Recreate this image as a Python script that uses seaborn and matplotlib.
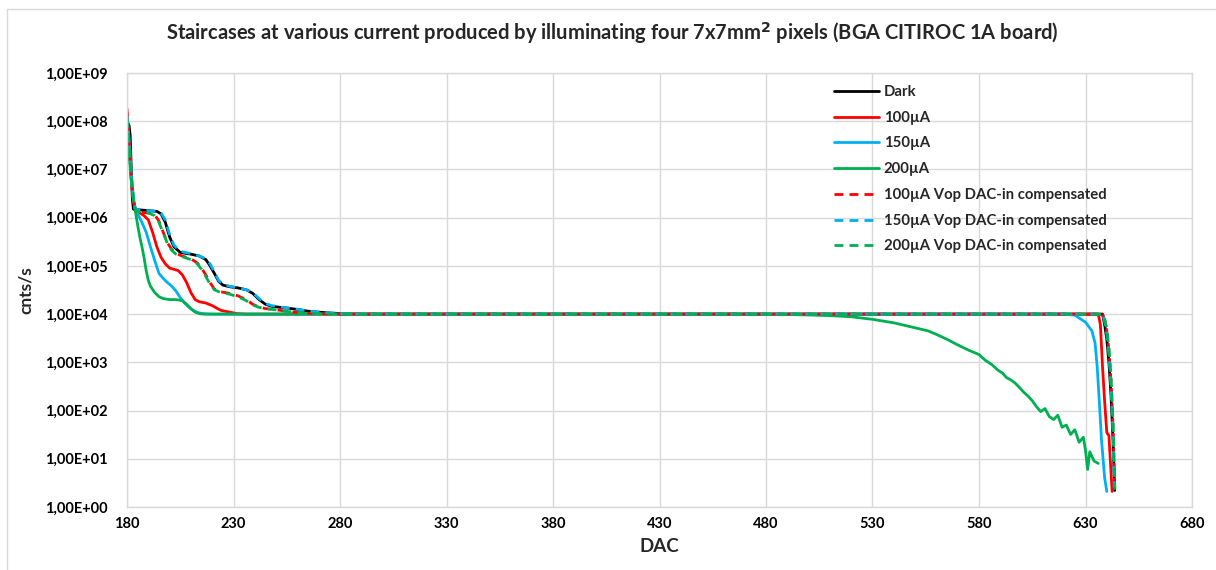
import numpy as np
import pandas as pd
import matplotlib
matplotlib.use("Agg")
import matplotlib.pyplot as plt
import seaborn as sns
from matplotlib.ticker import FuncFormatter, FixedLocator
from matplotlib.patches import Rectangle

# ---- data (DAC, cnts/s) ----
dark_x = [180, 181, 181.5, 182, 182.5, 183, 186, 190, 194, 196, 198, 200, 202, 205, 210, 214, 217, 219, 221,
          223, 225, 228, 232, 236, 239, 242, 245, 248, 252, 256, 260, 265, 270, 276, 282, 288,
          638, 639, 640, 641, 642, 643, 643.7]
dark_y = [1e8, 8e7, 5e7, 1e7, 2.5e6, 1.5e6, 1.45e6, 1.4e6, 1.35e6, 1.2e6, 8e5, 4e5, 2.5e5, 1.9e5, 1.75e5, 1.6e5,
          1.35e5, 1e5, 7e4, 4.8e4, 4e4, 3.7e4, 3.5e4, 3.2e4, 2.7e4, 2e4, 1.6e4, 1.45e4, 1.38e4, 1.32e4, 1.25e4,
          1.15e4, 1.1e4, 1.05e4, 1.02e4, 1e4, 1e4, 6e3, 3e3, 1e3, 200, 20, 2.2]

i100_x = [180, 181, 182, 183, 184, 186, 188, 190, 192, 194, 196, 198, 200, 202, 204, 206, 208, 210, 212, 214,
          217, 220, 224, 228, 232, 236, 636, 637, 638, 639, 640, 641, 642, 642.5]
i100_y = [1.8e8, 3e7, 6e6, 2.2e6, 1.4e6, 1.25e6, 1.1e6, 9e5, 5e5, 2.5e5, 1.5e5, 1.1e5, 9e4, 8.5e4, 8e4, 6.5e4,
          4.5e4, 2.8e4, 2e4, 1.8e4, 1.7e4, 1.5e4, 1.2e4, 1.1e4, 1.02e4, 1e4, 1e4, 6e3, 8e2, 1.5e2, 35, 30, 5, 2.1]

i150_x = [180, 181, 182, 183, 184, 185, 187, 189, 191, 193, 195, 197, 199, 201, 203, 205, 207, 209, 211, 213,
          216, 220, 620, 625, 630, 633, 634.5, 635.5, 636.5, 637.5, 639, 640]
i150_y = [1.3e8, 4e7, 8e6, 2.5e6, 1.4e6, 1.2e6, 8e5, 5e5, 2.5e5, 1.3e5, 7e4, 5.5e4, 4.5e4, 3.8e4, 3e4, 2.2e4,
          1.7e4, 1.4e4, 1.2e4, 1.08e4, 1.02e4, 1e4, 1e4, 9.5e3, 6.8e3, 4.5e3, 2.5e3, 800, 150, 25, 4, 2.1]

i200_x = [180, 181, 182, 183, 184, 185, 186, 187, 188, 189, 190, 191, 193, 195, 197, 200, 203, 206, 208, 210,
          212, 214, 216, 220, 480, 490, 500, 510, 520, 530, 540, 550, 556, 560, 565, 570, 575, 580, 583, 586,
          589, 591, 593, 595, 597, 599, 601, 603, 605, 607, 609, 611, 613, 615, 617, 619, 621, 623, 625, 627,
          629, 630, 631, 632, 634, 636]
i200_y = [8e7, 2e7, 6e6, 2.5e6, 1.3e6, 7e5, 4e5, 2.5e5, 1.5e5, 8e4, 5e4, 3.8e4, 2.8e4, 2.3e4, 2.1e4, 2e4, 2e4,
          1.9e4, 1.6e4, 1.3e4, 1.1e4, 1.02e4, 1e4, 1e4, 1e4, 9.8e3, 9.6e3, 9.3e3, 8.8e3, 7.8e3, 6.6e3, 5.2e3,
          4.5e3, 3.8e3, 3.0e3, 2.3e3, 1.8e3, 1.45e3, 1.1e3, 900, 680, 600, 480, 430, 370, 300, 240, 200, 160,
          120, 95, 110, 75, 65, 80, 45, 50, 32, 40, 22, 28, 15, 6, 14, 9, 8]

c100_x = [180, 181, 182, 183, 184, 186, 190, 193, 195, 197, 199, 201, 203, 206, 210, 213, 215, 217, 219, 221,
          224, 228, 232, 236, 239, 242, 245, 249, 253, 258, 263, 268, 274, 280, 286,
          638, 639, 640, 641, 642, 643, 643.7]
c100_y = [1.5e8, 4e7, 7e6, 2.3e6, 1.4e6, 1.3e6, 1.25e6, 1.15e6, 8.5e5, 5e5, 3e5, 2.2e5, 1.8e5, 1.6e5, 1.4e5,
          1.15e5, 9e4, 6.5e4, 4.5e4, 3.3e4, 2.9e4, 2.7e4, 2.4e4, 2e4, 1.6e4, 1.4e4, 1.3e4, 1.25e4, 1.18e4,
          1.1e4, 1.06e4, 1.03e4, 1.01e4, 1e4, 1e4, 1e4, 7.5e3, 4.5e3, 1.8e3, 400, 40, 2.2]

c150_x = [180, 181, 182, 183, 184, 186, 190, 194, 196, 198, 200, 202, 205, 210, 214, 217, 219, 221, 223, 225,
          228, 232, 236, 239, 242, 245, 248, 252, 256, 260, 265, 270, 276, 282, 288,
          638, 639, 640, 641, 642, 643, 643.5]
c150_y = [1.3e8, 4e7, 8e6, 2.5e6, 1.5e6, 1.45e6, 1.4e6, 1.35e6, 1.25e6, 9e5, 4.5e5, 2.7e5, 2e5, 1.8e5, 1.6e5,
          1.4e5, 1.1e5, 7.5e4, 5e4, 4.2e4, 3.8e4, 3.5e4, 3.2e4, 2.8e4, 2.1e4, 1.65e4, 1.5e4, 1.4e4, 1.33e4,
          1.26e4, 1.16e4, 1.1e4, 1.05e4, 1.02e4, 1e4, 1e4, 7e3, 4e3, 1.5e3, 300, 30, 2.5]

c200_x = [180, 181, 182, 183, 184, 186, 190, 193, 195, 197, 199, 201, 203, 206, 210, 213, 215, 217, 219, 221,
          224, 228, 232, 236, 239, 242, 245, 249, 253, 258, 263, 268, 274, 280, 286,
          638, 639, 640, 641, 642, 643, 643.8]
c200_y = [1.2e8, 3.5e7, 7e6, 2.3e6, 1.4e6, 1.3e6, 1.25e6, 1.1e6, 8e5, 4.8e5, 2.9e5, 2.1e5, 1.75e5, 1.55e5,
          1.35e5, 1.1e5, 8.5e4, 6e4, 4.2e4, 3.2e4, 2.8e4, 2.6e4, 2.3e4, 1.9e4, 1.55e4, 1.38e4, 1.3e4, 1.24e4,
          1.17e4, 1.1e4, 1.05e4, 1.03e4, 1.01e4, 1e4, 1e4, 1e4, 8e3, 5e3, 2e3, 500, 50, 2.3]

series_names = ["Dark", "100µA", "150µA", "200µA",
                "100µA Vop DAC-in compensated", "150µA Vop DAC-in compensated",
                "200µA Vop DAC-in compensated"]
series_x = [dark_x, i100_x, i150_x, i200_x, c100_x, c150_x, c200_x]
series_y = [dark_y, i100_y, i150_y, i200_y, c100_y, c150_y, c200_y]
colors = ["#000000", "#FF0000", "#00B0F0", "#00B050", "#FF0000", "#00B0F0", "#00B050"]
dashed = [False, False, False, False, True, True, True]

x_ticks = [180, 230, 280, 330, 380, 430, 480, 530, 580, 630, 680]
y_ticks = [1e0, 1e1, 1e2, 1e3, 1e4, 1e5, 1e6, 1e7, 1e8, 1e9]

frames = []
for name, xs, ys in zip(series_names, series_x, series_y):
    frames.append(pd.DataFrame({"DAC": xs, "cnts": ys, "series": name}))
df = pd.concat(frames, ignore_index=True)

sns.set_style("whitegrid")
plt.rcParams['font.family'] = ['Lato', 'DejaVu Sans']

fig = plt.figure(figsize=(12.16, 5.70), dpi=100)
ax = fig.add_axes([127 / 1216, 1 - 507 / 570, (1192 - 127) / 1216, (507 - 73) / 570])

for name, col, ds in zip(series_names, colors, dashed):
    sub = df[df["series"] == name]
    sns.lineplot(data=sub, x="DAC", y="cnts", ax=ax, color=col, lw=2.0, sort=False,
                 estimator=None, label=name,
                 linestyle=(0, (3.2, 2.2)) if ds else "-")

ax.set_yscale("log")
ax.set_xlim(180, 680)
ax.set_ylim(1, 1e9)
ax.xaxis.set_major_locator(FixedLocator(x_ticks))
ax.yaxis.set_major_locator(FixedLocator(y_ticks))
ax.yaxis.set_minor_locator(FixedLocator([]))
ax.yaxis.set_major_formatter(FuncFormatter(lambda v, p: "1,00E+%02d" % int(round(np.log10(v)))))
ax.grid(True, color="#d9d9d9", lw=1.0)
for s in ax.spines.values():
    s.set_color("#d9d9d9")
    s.set_linewidth(1.0)
ax.tick_params(axis="both", length=0, labelsize=10.5, colors="#000000")
ax.tick_params(axis="y", pad=14)
ax.tick_params(axis="x", pad=7)
for lab in ax.get_xticklabels() + ax.get_yticklabels():
    lab.set_fontweight("bold")

ax.set_xlabel("DAC", fontsize=13.5, fontweight="bold", labelpad=5)
ax.set_ylabel("cnts/s", fontsize=12.5, fontweight="bold", labelpad=8)

fig.text(612 / 1216, 1 - 33 / 570,
         "Staircases at various current produced by illuminating four 7x7mm$^\\mathbf{2}$ pixels (BGA CITIROC 1A board)",
         ha="center", va="center", fontsize=14.5, fontweight="bold")

leg = ax.legend(loc="upper left", bbox_to_anchor=(834 / 1216, 1 - 85 / 570), bbox_transform=fig.transFigure,
                frameon=False, prop={"weight": "bold", "size": 10.7}, handlelength=3.0, handletextpad=0.34,
                labelspacing=0.79, borderpad=0, borderaxespad=0)

fig.patches.append(Rectangle((7 / 1216, -0.1), 1.2, 1 - 9 / 570 + 0.1, transform=fig.transFigure,
                             fill=False, edgecolor="#d9d9d9", lw=1.0))

fig.savefig("out.png", dpi=100)
